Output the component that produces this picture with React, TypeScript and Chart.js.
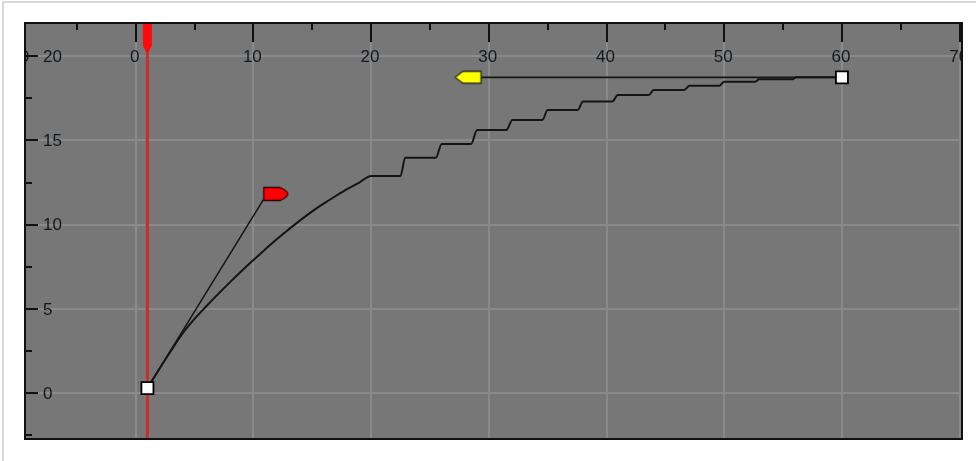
import React, { useEffect, useRef } from 'react';
import { Chart, registerables } from 'chart.js';

Chart.register(...registerables);

// ---- axis ranges ----
const X_MIN = -9.4;
const X_MAX = 70.2;
const Y_MIN = -2.71;
const Y_MAX = 21.96;

// ---- tick labels ----
const xTickValues = [-10, 0, 10, 20, 30, 40, 50, 60, 70];
const xTickLabels = ['-10', '0', '10', '20', '30', '40', '50', '60', '70'];
const xMinorTicks = [-5, 5, 15, 25, 35, 45, 55, 65];
const yTickValues = [0, 5, 10, 15, 20];
const yTickLabels = ['0', '5', '10', '15', '20'];
const yMinorTicks = [-2.5, 2.5, 7.5, 12.5, 17.5];

// ---- function curve (frame, value) ----
const curveFrames = [
  1, 2, 3, 4, 5, 6, 7, 8, 9, 10, 11, 12, 13, 14, 15, 16, 17, 18, 19, 20,
  22.5, 22.9, 25.5, 26, 28.5, 29, 31.5, 32, 34.55, 35, 37.55, 38,
  40.5, 40.95, 43.6, 44, 46.6, 47.05, 49.6, 50, 52.65, 52.95, 55.8, 56.1, 60,
];
const curveValues = [
  0.31, 1.43, 2.52, 3.56, 4.41, 5.16, 5.88, 6.58, 7.25, 7.9, 8.53, 9.15, 9.72, 10.27, 10.79, 11.26, 11.7, 12.12, 12.5, 12.89,
  12.89, 13.97, 13.97, 14.79, 14.79, 15.62, 15.62, 16.21, 16.21, 16.8, 16.8, 17.3,
  17.3, 17.69, 17.69, 17.99, 17.99, 18.24, 18.24, 18.48, 18.48, 18.62, 18.62, 18.74, 18.74,
];

// ---- keys and tangent handles ----
const keyFrames = [1, 60];
const keyValues = [0.31, 18.74];
const handleFrames = [10.84, 29.3];
const handleValues = [11.47, 18.74];
const currentFrame = 1;

function makeRedFlag() {
  const c = document.createElement('canvas');
  c.width = 60;
  c.height = 32;
  const g = c.getContext('2d')!;
  g.beginPath();
  g.moveTo(30.5, 3.5);
  g.lineTo(46.5, 3.5);
  g.quadraticCurveTo(54.5, 7, 54.5, 10);
  g.quadraticCurveTo(54.5, 13, 47, 16.5);
  g.lineTo(30.5, 16.5);
  g.closePath();
  g.fillStyle = '#ff0000';
  g.fill();
  g.strokeStyle = '#2a0000';
  g.lineWidth = 1.3;
  g.stroke();
  return c;
}

function makeYellowArrow() {
  const c = document.createElement('canvas');
  c.width = 60;
  c.height = 30;
  const g = c.getContext('2d')!;
  g.beginPath();
  g.moveTo(30.5, 9);
  g.lineTo(12.5, 9);
  g.lineTo(9, 11.5);
  g.lineTo(4.5, 15);
  g.lineTo(9, 18.5);
  g.lineTo(12.5, 21);
  g.lineTo(30.5, 21);
  g.closePath();
  g.fillStyle = '#ffff00';
  g.fill();
  g.strokeStyle = '#2a2a2a';
  g.lineWidth = 1.3;
  g.stroke();
  return c;
}

const editorPlugin = {
  id: 'editorDecor',
  beforeDraw(chart: any) {
    const { ctx, chartArea: a, width, height } = chart;
    const xs = chart.scales.x;
    const ys = chart.scales.y;
    ctx.save();
    ctx.fillStyle = '#ffffff';
    ctx.fillRect(0, 0, width, height);
    // outer light frame
    ctx.strokeStyle = '#d8d8d8';
    ctx.lineWidth = 2;
    ctx.beginPath();
    ctx.moveTo(3, height);
    ctx.lineTo(3, 2);
    ctx.lineTo(width, 2);
    ctx.stroke();
    // plot background
    ctx.fillStyle = '#777777';
    ctx.fillRect(a.left, a.top, a.right - a.left, a.bottom - a.top);
    ctx.beginPath();
    ctx.rect(a.left, a.top, a.right - a.left, a.bottom - a.top);
    ctx.clip();
    // grid
    ctx.strokeStyle = '#8a8a8a';
    ctx.lineWidth = 2;
    xTickValues.forEach((v) => {
      const px = Math.round(xs.getPixelForValue(v));
      ctx.beginPath();
      ctx.moveTo(px, a.top);
      ctx.lineTo(px, a.bottom);
      ctx.stroke();
    });
    yTickValues.forEach((v) => {
      const py = Math.round(ys.getPixelForValue(v));
      ctx.beginPath();
      ctx.moveTo(a.left, py);
      ctx.lineTo(a.right, py);
      ctx.stroke();
    });
    // tick marks
    ctx.strokeStyle = '#111111';
    ctx.lineWidth = 2;
    xTickValues.forEach((v) => {
      const px = Math.round(xs.getPixelForValue(v));
      ctx.beginPath();
      ctx.moveTo(px, a.top);
      ctx.lineTo(px, a.top + 19);
      ctx.stroke();
    });
    xMinorTicks.forEach((v) => {
      const px = Math.round(xs.getPixelForValue(v));
      ctx.beginPath();
      ctx.moveTo(px, a.top);
      ctx.lineTo(px, a.top + 7);
      ctx.stroke();
    });
    yTickValues.forEach((v) => {
      const py = Math.round(ys.getPixelForValue(v));
      ctx.beginPath();
      ctx.moveTo(a.left, py);
      ctx.lineTo(a.left + 13, py);
      ctx.stroke();
    });
    yMinorTicks.forEach((v) => {
      const py = Math.round(ys.getPixelForValue(v));
      ctx.beginPath();
      ctx.moveTo(a.left, py);
      ctx.lineTo(a.left + 7, py);
      ctx.stroke();
    });
    // tick labels (inside plot, clipped)
    ctx.fillStyle = '#12181e';
    ctx.font = '17px "Liberation Sans", Arial, sans-serif';
    ctx.textBaseline = 'middle';
    ctx.textAlign = 'center';
    xTickValues.forEach((v, i) => {
      ctx.fillText(xTickLabels[i], xs.getPixelForValue(v) - 1, a.top + 34);
    });
    ctx.textAlign = 'left';
    yTickValues.forEach((v, i) => {
      ctx.fillText(yTickLabels[i], a.left + 18, ys.getPixelForValue(v) + 1);
    });
    ctx.restore();
  },
  beforeDatasetsDraw(chart: any) {
    const { ctx, chartArea: a } = chart;
    const cx = chart.scales.x.getPixelForValue(currentFrame);
    ctx.save();
    ctx.strokeStyle = 'rgb(205,45,45)';
    ctx.lineWidth = 3;
    ctx.beginPath();
    ctx.moveTo(cx, a.top);
    ctx.lineTo(cx, a.bottom);
    ctx.stroke();
    ctx.fillStyle = '#ff0a0a';
    ctx.beginPath();
    ctx.moveTo(cx - 4.5, a.top);
    ctx.lineTo(cx + 4.5, a.top);
    ctx.lineTo(cx + 4.5, a.top + 22);
    ctx.lineTo(cx + 1.5, a.top + 29);
    ctx.lineTo(cx - 1.5, a.top + 29);
    ctx.lineTo(cx - 4.5, a.top + 22);
    ctx.closePath();
    ctx.fill();
    ctx.restore();
  },
  afterDraw(chart: any) {
    const { ctx, chartArea: a } = chart;
    ctx.save();
    ctx.strokeStyle = '#111111';
    ctx.lineWidth = 2;
    ctx.strokeRect(a.left, a.top, a.right - a.left, a.bottom - a.top);
    ctx.restore();
  },
};

export default function App() {
  const ref = useRef<HTMLCanvasElement | null>(null);

  useEffect(() => {
    if (!ref.current) return;
    const redFlag = makeRedFlag();
    const yellowArrow = makeYellowArrow();
    const curveData = curveFrames.map((x, i) => ({ x, y: curveValues[i] }));
    const keyData = keyFrames.map((x, i) => ({ x, y: keyValues[i] }));
    const handleData = handleFrames.map((x, i) => ({ x, y: handleValues[i] }));

    const chart = new Chart(ref.current, {
      type: 'scatter',
      data: {
        datasets: [
          {
            label: 'keys',
            data: keyData,
            showLine: false,
            pointStyle: 'rect',
            pointRadius: 8.5,
            backgroundColor: '#ffffff',
            borderColor: '#000000',
            borderWidth: 1.8,
          } as any,
          {
            label: 'handles',
            data: handleData,
            showLine: false,
            pointStyle: [redFlag, yellowArrow],
            pointRadius: 5,
          } as any,
          {
            label: 'inTangent',
            data: [keyData[0], handleData[0]],
            showLine: true,
            borderColor: '#141414',
            borderWidth: 1.5,
            pointRadius: 0,
          } as any,
          {
            label: 'outTangent',
            data: [keyData[1], handleData[1]],
            showLine: true,
            borderColor: '#141414',
            borderWidth: 1.8,
            pointRadius: 0,
          } as any,
          {
            label: 'curve',
            data: curveData,
            showLine: true,
            borderColor: '#141414',
            borderWidth: 2,
            pointRadius: 0,
            cubicInterpolationMode: 'monotone',
          } as any,
        ],
      },
      options: {
        animation: false,
        responsive: false,
        events: [],
        layout: { padding: { left: 25, top: 23, right: 14, bottom: 22 } },
        plugins: { legend: { display: false }, tooltip: { enabled: false } },
        scales: {
          x: { type: 'linear', min: X_MIN, max: X_MAX, display: false },
          y: { type: 'linear', min: Y_MIN, max: Y_MAX, display: false },
        },
      },
      plugins: [editorPlugin],
    });
    return () => chart.destroy();
  }, []);

  return (
    <div style={{ position: 'fixed', left: 0, top: 0, width: 976, height: 461, background: '#fff' }}>
      <canvas ref={ref} width={976} height={461} style={{ display: 'block' }} />
    </div>
  );
}
